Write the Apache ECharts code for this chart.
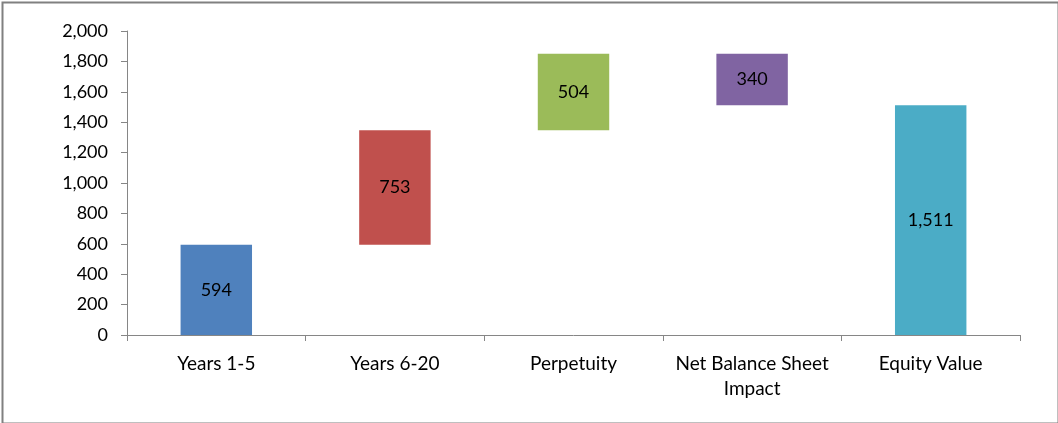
<!DOCTYPE html>
<html>
<head>
<meta charset="utf-8">
<script src="https://cdn.jsdelivr.net/npm/echarts@6/dist/echarts.min.js"></script>
<style>
html,body{margin:0;padding:0;background:#fff;}
#c{width:1058px;height:423px;}
</style>
</head>
<body>
<div id="c"></div>
<script>
var categories = ["Years 1-5", "Years 6-20", "Perpetuity", "Net Balance Sheet\nImpact", "Equity Value"];
var baseValues = [0, 594, 1347, 1511, 0];
var barValues = [594, 753, 504, 340, 1511];
var barColors = ["#4F81BD", "#C0504D", "#9BBB59", "#8064A2", "#4BACC6"];
var yTicks = [0, 200, 400, 600, 800, 1000, 1200, 1400, 1600, 1800, 2000];

var FONT = "Lato";
var chart = echarts.init(document.getElementById('c'), null, {renderer: 'canvas'});
function fmt(v){ return Number(v).toLocaleString('en-US'); }
chart.setOption({
  animation: false,
  textStyle: {fontFamily: FONT},
  graphic: [{
    type: 'rect', left: 0, top: 0,
    shape: {x: 1, y: 1, width: 1056, height: 421},
    style: {fill: 'none', stroke: '#808080', lineWidth: 2}
  }],
  grid: {left: 127, right: 38, top: 31, bottom: 88},
  xAxis: {
    type: 'category',
    data: categories,
    axisLine: {lineStyle: {color: '#868686', width: 1}},
    axisTick: {show: true, length: 6, lineStyle: {color: '#868686'}},
    axisLabel: {color: '#000', fontSize: 19, fontFamily: FONT, margin: 16, lineHeight: 25, interval: 0}
  },
  yAxis: {
    type: 'value',
    min: yTicks[0], max: yTicks[yTicks.length - 1], interval: yTicks[1] - yTicks[0],
    axisLine: {show: true, lineStyle: {color: '#868686', width: 1}},
    axisTick: {show: true, length: 6, lineStyle: {color: '#868686'}},
    splitLine: {show: false},
    axisLabel: {color: '#000', fontSize: 18, fontFamily: FONT, margin: 19, formatter: fmt}
  },
  series: [{
    type: 'bar', stack: 'w', silent: true,
    data: baseValues,
    itemStyle: {color: 'transparent'},
    barCategoryGap: '60%'
  }, {
    type: 'bar', stack: 'w',
    data: barValues.map(function(v, i){ return {value: v, itemStyle: {color: barColors[i]}}; }),
    barCategoryGap: '60%',
    label: {show: true, position: 'inside', color: '#000', fontSize: 18, fontFamily: FONT, formatter: function(p){ return fmt(p.value); }}
  }]
});
</script>
</body>
</html>
